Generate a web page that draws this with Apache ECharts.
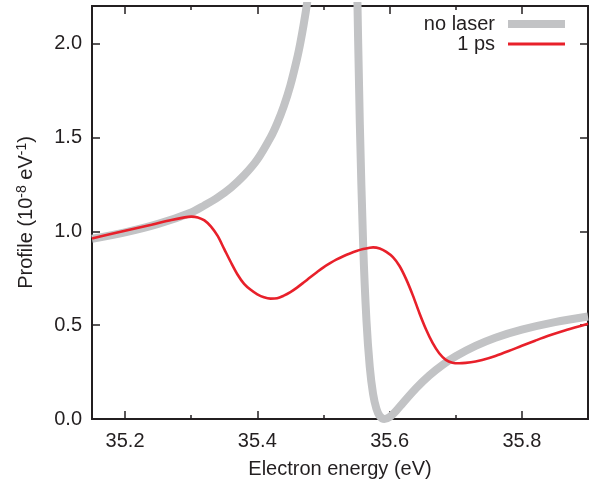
<!DOCTYPE html>
<html>
<head>
<meta charset="utf-8">
<script src="https://cdn.jsdelivr.net/npm/echarts@6/dist/echarts.min.js"></script>
<style>
  html,body{margin:0;padding:0;background:#fff;}
  #main{width:592px;height:485px;}
</style>
</head>
<body>
<div id="main"></div>
<script>
// no laser (static Fano profile)
var grayE=[35.15,35.20,35.25,35.30,35.32,35.34,35.36,35.38,35.40,35.42,35.43,35.44,35.45,35.46,35.465,35.47,35.475,35.48,35.50,35.52,35.53,35.535,35.54,35.545,35.55,35.555,35.56,35.565,35.57,35.575,35.58,35.585,35.592,35.60,35.61,35.62,35.64,35.66,35.68,35.70,35.73,35.76,35.80,35.85,35.90];
var grayV=[0.96,0.994,1.039,1.10,1.138,1.180,1.232,1.298,1.382,1.50,1.575,1.666,1.778,1.919,2.003,2.10,2.21,2.341,3.13,4.68,5.41,5.32,4.69,3.63,2.49,1.57,0.932,0.525,0.278,0.134,0.055,0.016,0,0.011,0.044,0.085,0.164,0.232,0.288,0.334,0.389,0.433,0.476,0.516,0.546];
// 1 ps
var redE=[35.15,35.18,35.21,35.24,35.27,35.29,35.30,35.31,35.32,35.33,35.34,35.35,35.36,35.37,35.38,35.39,35.40,35.41,35.42,35.43,35.44,35.45,35.46,35.47,35.48,35.49,35.50,35.51,35.52,35.53,35.54,35.55,35.56,35.57,35.575,35.585,35.595,35.605,35.615,35.625,35.635,35.645,35.655,35.665,35.675,35.685,35.695,35.705,35.715,35.73,35.74,35.76,35.78,35.80,35.82,35.84,35.86,35.88,35.90];
var redV=[0.962,0.987,1.011,1.035,1.060,1.074,1.078,1.074,1.058,1.025,0.975,0.905,0.835,0.77,0.72,0.688,0.664,0.648,0.641,0.643,0.657,0.676,0.70,0.727,0.755,0.782,0.808,0.83,0.85,0.867,0.882,0.895,0.905,0.912,0.914,0.908,0.89,0.862,0.815,0.745,0.66,0.565,0.478,0.405,0.35,0.315,0.30,0.297,0.299,0.306,0.314,0.336,0.362,0.39,0.417,0.443,0.466,0.487,0.507];

var xMajor=[35.2,35.4,35.6,35.8];
var xMinor=[35.3,35.5,35.7];
var yTicks=[0,0.5,1.0,1.5,2.0];

var seriesNames=['no laser','1 ps'];

function pairs(xs,ys){
	var out=[];
	for(var i=0;i<xs.length;i++){ out.push([xs[i],ys[i]]); }
	return out;
}

var ink='#231f20';
var font='Liberation Sans';
var fs=20;

function xAxisDef(pos,ticks,len,labels){
	return {
		type:'value',position:pos,min:35.15,max:35.9,
		axisLine:{show:true,onZero:false,lineStyle:{color:ink,width:2}},
		axisTick:{show:true,inside:true,length:len,customValues:ticks,lineStyle:{color:ink,width:1.5}},
		axisLabel:{show:labels,customValues:ticks,color:ink,fontFamily:font,fontSize:fs,margin:12,
			formatter:function(v){return v.toFixed(1);}},
		splitLine:{show:false}
	};
}
function yAxisDef(pos,labels){
	return {
		type:'value',position:pos,min:0,max:2.2,
		axisLine:{show:true,onZero:false,lineStyle:{color:ink,width:2}},
		axisTick:{show:true,inside:true,length:8,customValues:yTicks,lineStyle:{color:ink,width:1.5}},
		axisLabel:{show:labels,customValues:yTicks,color:ink,fontFamily:font,fontSize:fs,margin:10,
			formatter:function(v){return v.toFixed(1);}},
		splitLine:{show:false}
	};
}

var xs=[xAxisDef('bottom',xMajor,8,true),xAxisDef('bottom',xMinor,4,false),
	xAxisDef('top',xMajor,8,false),xAxisDef('top',xMinor,4,false)];
xs[0].name='Electron energy (eV)';
xs[0].nameLocation='middle';
xs[0].nameGap=40;
xs[0].nameTextStyle={color:ink,fontFamily:font,fontSize:fs};

var ys=[yAxisDef('left',true),yAxisDef('right',false)];
ys[0].name='Profile (10{sup|-8} eV{sup|-1})';
ys[0].nameLocation='middle';
ys[0].nameGap=54;
ys[0].nameTextStyle={color:ink,fontFamily:font,fontSize:fs,
	rich:{sup:{fontSize:14,verticalAlign:'top',padding:[0,0,9,0],color:ink,fontFamily:font}}};

var chart=echarts.init(document.getElementById('main'));
var option={
	animation:false,
	grid:{left:92,right:4,top:6,bottom:66,containLabel:false},
	legend:[
		{data:[seriesNames[0]],right:27,top:14,padding:0,align:'right',icon:'rect',itemWidth:57,itemHeight:8,
			textStyle:{color:ink,fontFamily:font,fontSize:fs,padding:[0,8,0,0]}},
		{data:[seriesNames[1]],right:27,top:34,padding:0,align:'right',icon:'rect',itemWidth:57,itemHeight:3,
			textStyle:{color:ink,fontFamily:font,fontSize:fs,padding:[0,8,0,0]}}
	],
	xAxis:xs,
	yAxis:ys,
	series:[
		{name:seriesNames[0],type:'line',xAxisIndex:0,yAxisIndex:0,data:pairs(grayE,grayV),
			showSymbol:false,smooth:0.3,clip:true,
			lineStyle:{color:'#c2c3c5',width:8},itemStyle:{color:'#c2c3c5'}},
		{name:seriesNames[1],type:'line',xAxisIndex:0,yAxisIndex:0,data:pairs(redE,redV),
			showSymbol:false,smooth:0.3,clip:true,
			lineStyle:{color:'#e8202a',width:2.6},itemStyle:{color:'#e8202a'}}
	]
};
chart.setOption(option);
</script>
</body>
</html>
